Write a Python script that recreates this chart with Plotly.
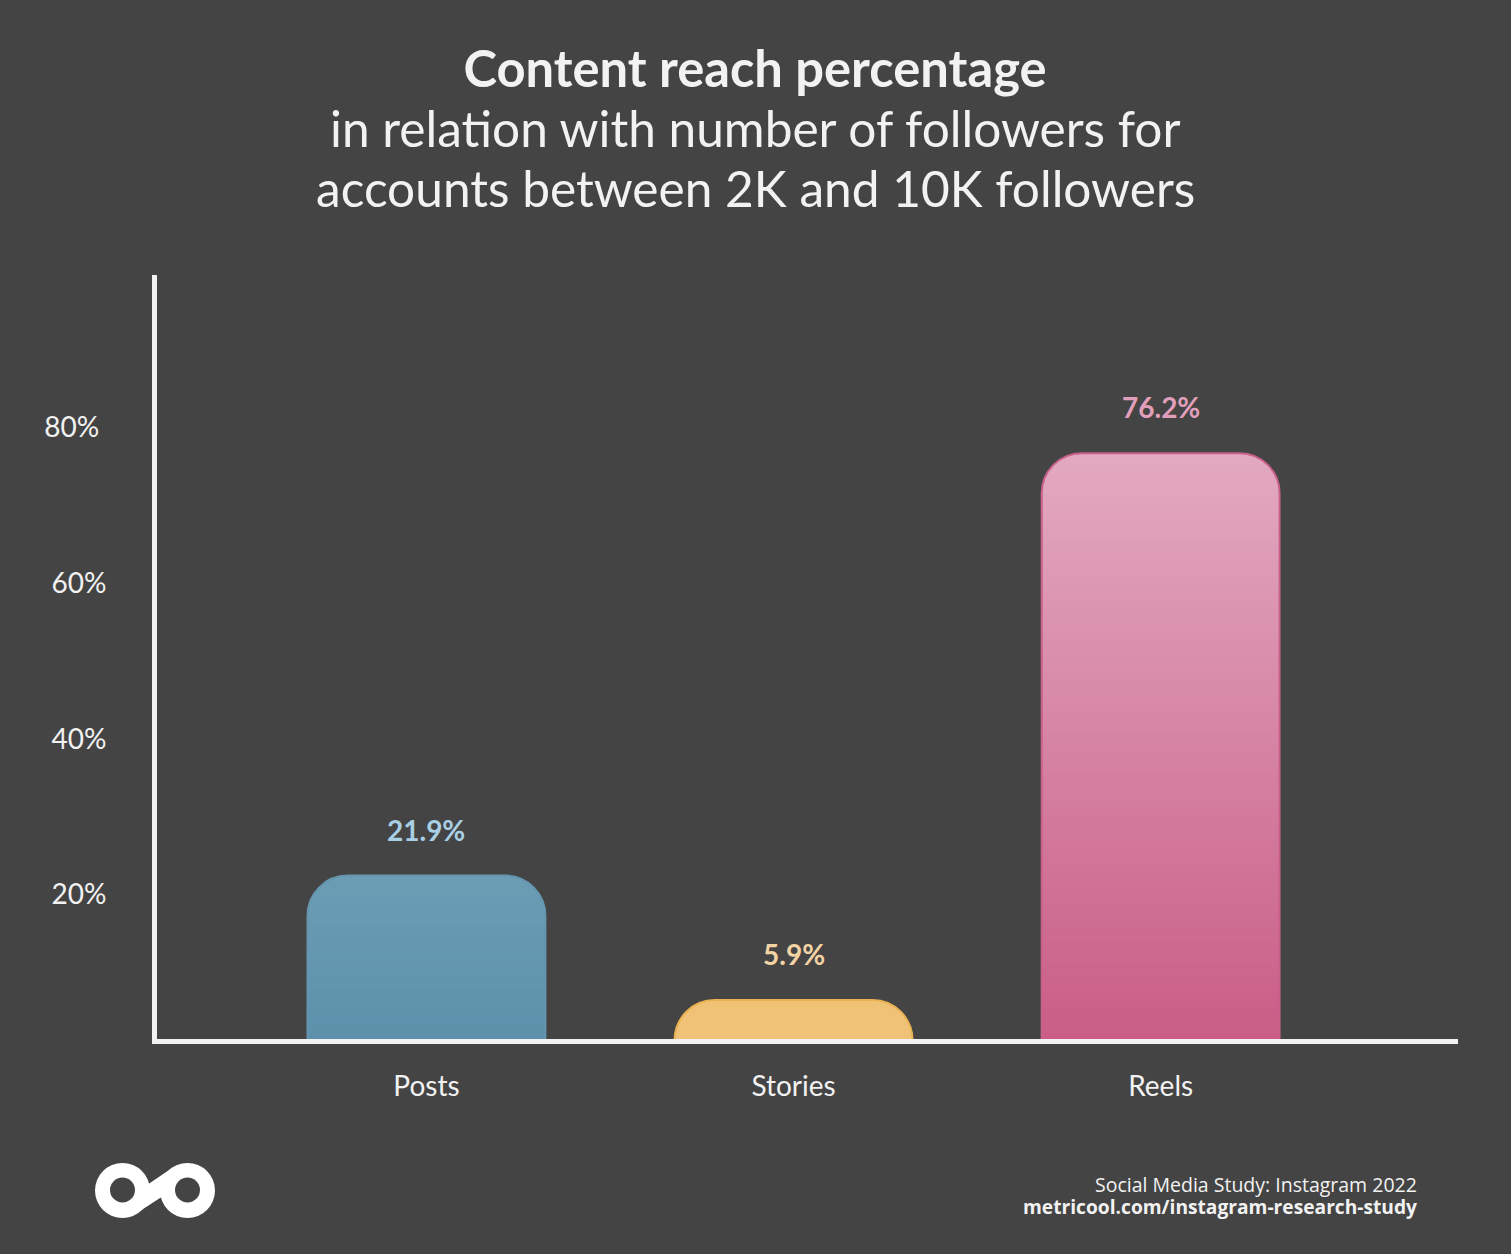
import plotly.graph_objects as go

W, H = 1511, 1254
BG = '#444444'
TEXT = '#f2f2f2'

categories = ['Posts', 'Stories', 'Reels']
reach = [21.9, 5.9, 76.2]
value_labels = ['21.9%', '5.9%', '76.2%']
y_ticks = [20, 40, 60, 80]
y_tick_labels = ['20%', '40%', '60%', '80%\u00a0']
title_lines = ['in relation with number of followers for', 'accounts between 2K and 10K followers']

color_top = ['#6c9db5', '#f0c277', '#e2a9bf']
color_bottom = ['#5c90aa', '#f0c27a', '#c95c85']
color_line = ['#6496ae', '#e8b350', '#c9608a']
color_label = ['#a9cfe5', '#f3d3a3', '#e29fbb']

STEPS = 120  # bandes empilees pour simuler le degrade
BAR_W = 0.648


def hex_rgb(c):
    return [int(c[i:i + 2], 16) for i in (1, 3, 5)]


def mix(c1, c2, t):
    a, b = hex_rgb(c1), hex_rgb(c2)
    return 'rgb(%d,%d,%d)' % tuple(round(a[i] + (b[i] - a[i]) * t) for i in range(3))


def px_x(x):
    return x / W


def px_y(y):
    return 1 - y / H


fig = go.Figure()

# barres emboitees : la premiere porte la vraie valeur, les suivantes le degrade
for s in range(STEPS):
    t = s / STEPS
    fig.add_trace(go.Bar(
        x=categories,
        y=[v * (1 - t) for v in reach],
        width=BAR_W,
        marker=dict(color=[mix(a, b, t) for a, b in zip(color_top, color_bottom)],
                    line=dict(width=0), cornerradius=40),
        hoverinfo='skip' if s else None,
        showlegend=False,
    ))

# contour
fig.add_trace(go.Bar(
    x=categories,
    y=reach,
    width=BAR_W,
    marker=dict(color='rgba(0,0,0,0)', line=dict(color=color_line, width=2), cornerradius=40),
    hoverinfo='skip',
    showlegend=False,
))

for cat, val, txt, col in zip(categories, reach, value_labels, color_label):
    fig.add_annotation(x=cat, y=val, text='<b>%s</b>' % txt, showarrow=False, yshift=46,
                       font=dict(family='Lato', size=28, color=col))

# sous-titre
for line, y in zip(title_lines, [128, 188]):
    fig.add_annotation(xref='paper', yref='paper', x=755 / W, y=px_y(y), yanchor='middle',
                       text=line, showarrow=False,
                       font=dict(family='Lato', size=49.6, color=TEXT))

# logo
logo = [
    dict(type='circle', x0=px_x(95), x1=px_x(150), y0=px_y(1163), y1=px_y(1218), fillcolor='white'),
    dict(type='circle', x0=px_x(160), x1=px_x(215), y0=px_y(1163), y1=px_y(1218), fillcolor='white'),
    dict(type='path', fillcolor='white',
         path='M %f %f L %f %f L %f %f L %f %f L %f %f L %f %f Z' % (
             px_x(150), px_y(1183), px_x(172), px_y(1168), px_x(180), px_y(1186),
             px_x(160), px_y(1198), px_x(140), px_y(1211), px_x(130), px_y(1195))),
    dict(type='circle', x0=px_x(110), x1=px_x(135), y0=px_y(1177.5), y1=px_y(1202.5), fillcolor=BG),
    dict(type='circle', x0=px_x(175), x1=px_x(200), y0=px_y(1177.5), y1=px_y(1202.5), fillcolor=BG),
]
for sh in logo:
    fig.add_shape(xref='paper', yref='paper', line_width=0, **sh)

fig.add_annotation(xref='paper', yref='paper', x=px_x(1419), y=px_y(1184), xanchor='right', yanchor='middle',
                   text='Social Media Study: Instagram 2022', showarrow=False,
                   font=dict(family='Open Sans', size=19.5, color=TEXT))
fig.add_annotation(xref='paper', yref='paper', x=px_x(1419), y=px_y(1206), xanchor='right', yanchor='middle',
                   text='<b>metricool.com/instagram-research-study</b>', showarrow=False,
                   font=dict(family='Open Sans', size=19.2, color=TEXT))

fig.update_layout(
    width=W, height=H,
    paper_bgcolor=BG, plot_bgcolor=BG,
    margin=dict(l=0, r=0, t=0, b=0),
    barmode='overlay',
    showlegend=False,
    title=dict(
        text='<b>Content reach percentage</b>',
        x=755 / W, xanchor='center', y=px_y(69), yanchor='middle',
        font=dict(family='Lato', size=50.7, color=TEXT),
    ),
)
fig.update_xaxes(
    domain=[px_x(157), px_x(1458)],
    range=[-0.734, 2.81],
    showgrid=False, zeroline=False,
    showline=True, linecolor=TEXT, linewidth=5,
    ticks='outside', ticklen=18, tickcolor='rgba(0,0,0,0)',
    tickfont=dict(family='Lato', size=28, color=TEXT),
)
fig.update_yaxes(
    domain=[px_y(1039), px_y(275)],
    range=[0.9, 99.1],
    showgrid=False, zeroline=False,
    showline=True, linecolor=TEXT, linewidth=5,
    tickvals=y_ticks, ticktext=y_tick_labels,
    ticks='', ticklabelstandoff=40, ticklabelshift=4,
    tickfont=dict(family='Lato', size=28, color=TEXT),
)

fig.write_html("out.html", post_script="document.body.style.margin='0';",
               config={'displayModeBar': False})
